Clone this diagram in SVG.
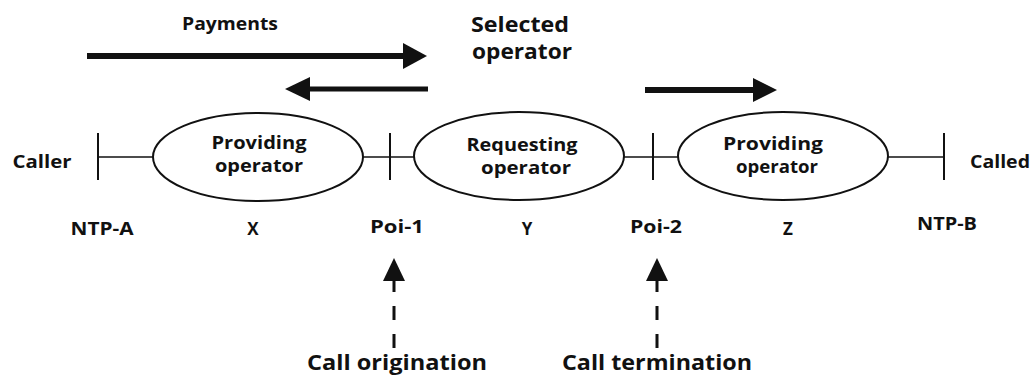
<svg xmlns="http://www.w3.org/2000/svg" width="1035" height="387" viewBox="0 0 1035 387">
<style>
text{font-family:"Open Sans","DejaVu Sans",sans-serif;font-weight:700;fill:#111;}
.n{font-size:18px;text-anchor:middle;}
.l{font-size:17px;text-anchor:middle;}
.big{font-size:21px;text-anchor:middle;}
.tick{stroke:#111;stroke-width:2;}
.ln{stroke:#111;stroke-width:1.6;}
.ell{fill:#fff;stroke:#111;stroke-width:2;}
.fat{stroke:#111;fill:none;}
.dash{stroke:#111;stroke-width:3;stroke-dasharray:14 14;}
.head{fill:#111;}
</style>
<rect width="1035" height="387" fill="#fff"/>
<g id="connectors">
  <line class="ln" x1="98" y1="157" x2="153" y2="157"/>
  <line class="ln" x1="363" y1="157" x2="415" y2="157"/>
  <line class="ln" x1="624" y1="157" x2="678" y2="157"/>
  <line class="ln" x1="888" y1="157" x2="944" y2="157"/>
  <line class="tick" x1="98" y1="133" x2="98" y2="180"/>
  <line class="tick" x1="390" y1="133" x2="390" y2="180"/>
  <line class="tick" x1="653" y1="133" x2="653" y2="180"/>
  <line class="tick" x1="944" y1="133" x2="944" y2="180"/>
  <g id="payments-arrow">
    <line class="fat" x1="87" y1="56" x2="406" y2="56" stroke-width="6"/>
    <polygon class="head" points="403,43 427,56 403,69"/>
  </g>
  <g id="return-arrow">
    <line class="fat" x1="428" y1="89" x2="307" y2="89" stroke-width="5"/>
    <polygon class="head" points="310,77 285,89 310,101"/>
  </g>
  <g id="right-arrow">
    <line class="fat" x1="645" y1="90" x2="755" y2="90" stroke-width="6"/>
    <polygon class="head" points="753,78 777,90 753,102"/>
  </g>
  <g id="origination-arrow">
    <line class="dash" x1="394" y1="348" x2="394" y2="278"/>
    <polygon class="head" points="383,281 394,258 405,281"/>
  </g>
  <g id="termination-arrow">
    <line class="dash" x1="657" y1="348" x2="657" y2="278"/>
    <polygon class="head" points="646,281 657,258 668,281"/>
  </g>
</g>
<g id="node-x">
  <ellipse class="ell" cx="258" cy="157" rx="105" ry="44"/>
  <text class="n" x="259" y="149" textLength="95" lengthAdjust="spacingAndGlyphs">Providing</text>
  <text class="n" x="259" y="172" textLength="88" lengthAdjust="spacingAndGlyphs">operator</text>
</g>
<g id="node-y">
  <ellipse class="ell" cx="519" cy="156" rx="105" ry="44"/>
  <text class="n" x="522" y="151" textLength="111" lengthAdjust="spacingAndGlyphs">Requesting</text>
  <text class="n" x="526" y="174" textLength="90" lengthAdjust="spacingAndGlyphs">operator</text>
</g>
<g id="node-z">
  <ellipse class="ell" cx="783" cy="156" rx="105" ry="44"/>
  <text class="n" x="773" y="150" textLength="100" lengthAdjust="spacingAndGlyphs">Providing</text>
  <text class="n" x="777" y="173" textLength="82" lengthAdjust="spacingAndGlyphs">operator</text>
</g>
<g id="labels">
  <text class="n" x="182" y="30" text-anchor="start" style="text-anchor:start" textLength="96" lengthAdjust="spacingAndGlyphs">Payments</text>
  <text class="big" x="520" y="32" textLength="98" lengthAdjust="spacingAndGlyphs">Selected</text>
  <text class="big" x="522" y="59" textLength="100" lengthAdjust="spacingAndGlyphs">operator</text>
  <text class="n" x="42" y="168" textLength="59" lengthAdjust="spacingAndGlyphs">Caller</text>
  <text class="n" x="1000" y="168" textLength="60" lengthAdjust="spacingAndGlyphs">Called</text>
  <text class="l" x="102" y="235" textLength="63" lengthAdjust="spacingAndGlyphs">NTP-A</text>
  <text class="l" x="253" y="235">X</text>
  <text class="l" x="397" y="233" textLength="54" lengthAdjust="spacingAndGlyphs">Poi-1</text>
  <text class="l" x="527" y="235">Y</text>
  <text class="l" x="656" y="233" textLength="52" lengthAdjust="spacingAndGlyphs">Poi-2</text>
  <text class="l" x="788" y="235">Z</text>
  <text class="l" x="947" y="230" textLength="60" lengthAdjust="spacingAndGlyphs">NTP-B</text>
  <text class="big" x="397" y="370" textLength="180" lengthAdjust="spacingAndGlyphs">Call origination</text>
  <text class="big" x="657" y="370" textLength="190" lengthAdjust="spacingAndGlyphs">Call termination</text>
</g>
</svg>
